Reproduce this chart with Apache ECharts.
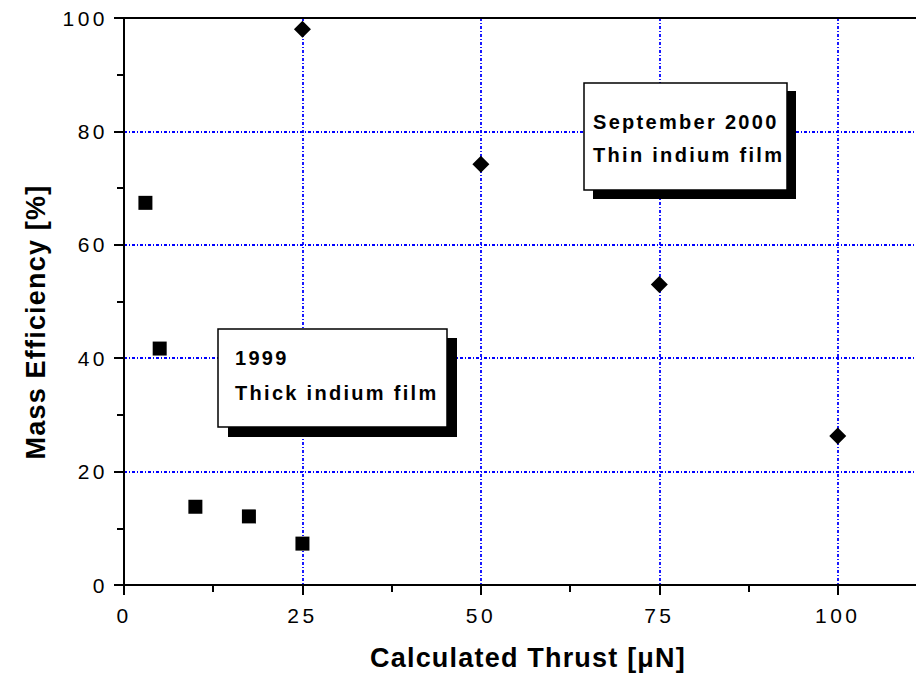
<!DOCTYPE html>
<html><head><meta charset="utf-8">
<script src="https://cdn.jsdelivr.net/npm/echarts@6/dist/echarts.min.js"></script>
<style>html,body{margin:0;padding:0;background:#fff;overflow:hidden}#c{width:916px;height:674px}</style>
</head><body><div id="c"></div>
<script>
// Data
const thickFilm1999 = [[3, 67.4], [5, 41.7], [10, 13.8], [17.5, 12.1], [25, 7.3]];
const thinFilm2000 = [[25, 98.0], [50, 74.2], [75, 53.0], [100, 26.3]];
const xTickLabels = [0, 25, 50, 75, 100];
const yTickLabels = [0, 20, 40, 60, 80, 100];
const xTitle = 'Calculated Thrust [\u03bcN]';
const yTitle = 'Mass Efficiency [%]';
const box1999 = ['1999', 'Thick indium film'];
const box2000 = ['September 2000', 'Thin indium film'];

const FONT = '"Liberation Sans", Arial, Helvetica, sans-serif';
const chart = echarts.init(document.getElementById('c'), null, {renderer: 'svg'});

const gridLine = {show: true, lineStyle: {color: '#0000ff', width: 1.8, type: [3, 2, 1, 2]}};
const tickLabel = {color: '#000', fontFamily: FONT, fontSize: 21};

function boxElements(x, y, w, h, sx, sy, sw, sh, lines, tx, ty1, ty2) {
  return [
    {type: 'rect', z: 10, shape: {x: sx, y: sy, width: sw, height: sh}, style: {fill: '#000'}},
    {type: 'rect', z: 11, shape: {x: x, y: y, width: w, height: h}, style: {fill: '#fff', stroke: '#000', lineWidth: 1.5}},
    {type: 'text', z: 12, x: tx, y: ty1, style: {text: lines[0], font: 'bold 20px ' + FONT, fill: '#000', align: 'left', verticalAlign: 'middle'}},
    {type: 'text', z: 12, x: tx, y: ty2, style: {text: lines[1], font: 'bold 20px ' + FONT, fill: '#000', align: 'left', verticalAlign: 'middle'}}
  ];
}

chart.setOption({
  animation: false,
  backgroundColor: '#fff',
  grid: {left: 124, top: 18, height: 567, width: 803, containLabel: false, outerBoundsMode: 'none'},
  xAxis: [{
    type: 'value', min: 0, max: 112.5, interval: 25, position: 'bottom',
    axisLine: {show: true, onZero: false, lineStyle: {color: '#000', width: 2}},
    axisTick: {show: true, inside: false, length: 10, lineStyle: {color: '#000', width: 2}},
    minorTick: {show: true, splitNumber: 2, length: 7, lineStyle: {color: '#000', width: 2}},
    axisLabel: Object.assign({margin: 20, showMaxLabel: false,
      formatter: v => xTickLabels.includes(v) ? String(v) : ''}, tickLabel),
    splitLine: gridLine,
    minorSplitLine: {show: false}
  }, {
    type: 'value', min: 0, max: 112.5, position: 'top',
    axisLine: {show: true, onZero: false, lineStyle: {color: '#000', width: 2}},
    axisTick: {show: false}, axisLabel: {show: false}, splitLine: {show: false}
  }],
  yAxis: {
    type: 'value', min: 0, max: 100, interval: 20,
    axisLine: {show: true, onZero: false, lineStyle: {color: '#000', width: 2}},
    axisTick: {show: true, inside: false, length: 10, lineStyle: {color: '#000', width: 2}},
    minorTick: {show: true, splitNumber: 2, length: 7, lineStyle: {color: '#000', width: 2}},
    axisLabel: Object.assign({margin: 16,
      formatter: v => yTickLabels.includes(v) ? String(v) : ''}, tickLabel),
    splitLine: gridLine,
    minorSplitLine: {show: false}
  },
  series: [{
    name: '1999 Thick indium film', type: 'scatter', data: thickFilm1999,
    symbol: 'rect', symbolSize: 14, itemStyle: {color: '#000', opacity: 1}, z: 5
  }, {
    name: 'September 2000 Thin indium film', type: 'scatter', data: thinFilm2000,
    symbol: 'diamond', symbolSize: 17, itemStyle: {color: '#000', opacity: 1}, z: 5
  }],
  graphic: {elements: [
    {type: 'text', z: 12, x: 36, y: 322, rotation: Math.PI / 2,
     style: {text: yTitle, font: 'bold 27px ' + FONT, fill: '#000', align: 'center', verticalAlign: 'middle'}},
    {type: 'text', z: 12, x: 528, y: 658,
     style: {text: xTitle, font: 'bold 27px ' + FONT, fill: '#000', align: 'center', verticalAlign: 'middle'}}
  ].concat(
    boxElements(218, 329, 229, 98, 228, 338, 229, 99, box1999, 235, 358, 393),
    boxElements(584, 83, 203, 107, 593, 91, 203, 108, box2000, 593, 122, 155)
  )}
});

function applySpacing() {
  document.querySelectorAll('#c svg text').forEach(t => {
    const fs = parseFloat(getComputedStyle(t).fontSize);
    let ls = 0;
    if (Math.abs(fs - 21) < 0.1) ls = 3.5;
    else if (Math.abs(fs - 27) < 0.1) ls = 1.2;
    else if (Math.abs(fs - 20) < 0.1) ls = 2.3;
    t.style.letterSpacing = ls + 'px';
  });
}
chart.on('finished', applySpacing);
setTimeout(applySpacing, 50);
</script>
</body></html>
